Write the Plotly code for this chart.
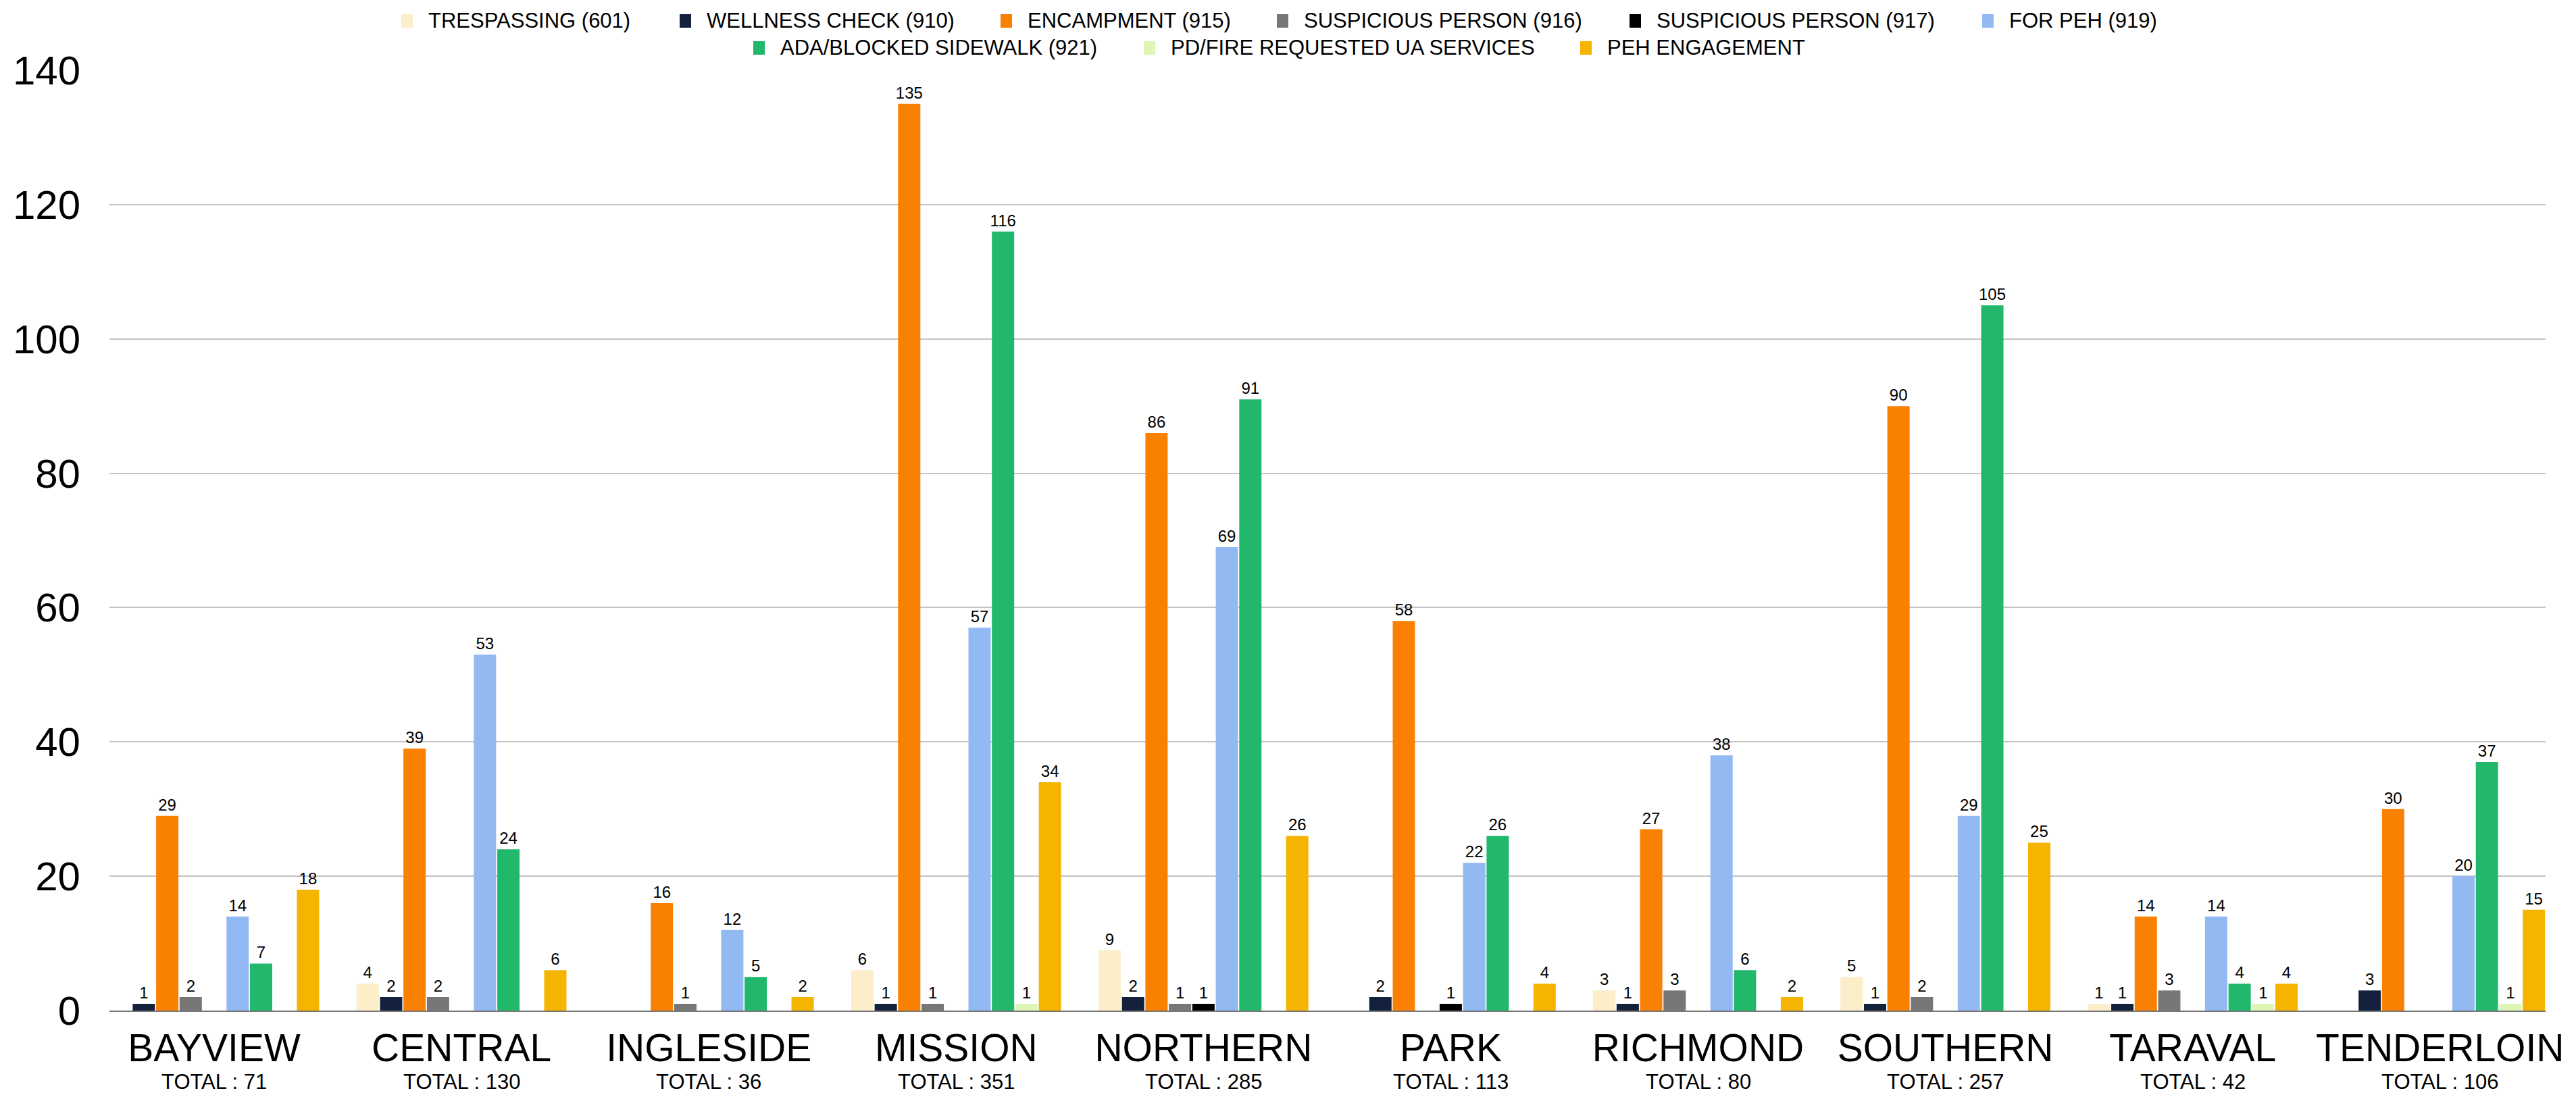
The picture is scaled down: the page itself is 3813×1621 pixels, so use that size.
import plotly.graph_objects as go

# ---- data ---------------------------------------------------------------
districts = ["BAYVIEW", "CENTRAL", "INGLESIDE", "MISSION", "NORTHERN",
             "PARK", "RICHMOND", "SOUTHERN", "TARAVAL", "TENDERLOIN"]

trespassing_601 = [0, 4, 0, 6, 9, 0, 3, 5, 1, 0]
wellness_check_910 = [1, 2, 0, 1, 2, 2, 1, 1, 1, 3]
encampment_915 = [29, 39, 16, 135, 86, 58, 27, 90, 14, 30]
suspicious_person_916 = [2, 2, 1, 1, 1, 0, 3, 2, 3, 0]
suspicious_person_917 = [0, 0, 0, 0, 1, 1, 0, 0, 0, 0]
for_peh_919 = [14, 53, 12, 57, 69, 22, 38, 29, 14, 20]
ada_blocked_sidewalk_921 = [7, 24, 5, 116, 91, 26, 6, 105, 4, 37]
pd_fire_requested_ua = [0, 0, 0, 1, 0, 0, 0, 0, 1, 1]
peh_engagement = [18, 6, 2, 34, 26, 4, 2, 25, 4, 15]

series_names = ["TRESPASSING (601)", "WELLNESS CHECK (910)", "ENCAMPMENT (915)",
                "SUSPICIOUS PERSON (916)", "SUSPICIOUS PERSON (917)", "FOR PEH (919)",
                "ADA/BLOCKED SIDEWALK (921)", "PD/FIRE REQUESTED UA SERVICES",
                "PEH ENGAGEMENT"]
series_values = [trespassing_601, wellness_check_910, encampment_915,
                 suspicious_person_916, suspicious_person_917, for_peh_919,
                 ada_blocked_sidewalk_921, pd_fire_requested_ua, peh_engagement]
series_colors = ["#FBEEC8", "#13213C", "#F98000", "#777777", "#000000",
                 "#93B9F3", "#22B86B", "#DDF6B6", "#F4B400"]

y_ticks = [0, 20, 40, 60, 80, 100, 120, 140]

# ---- geometry -----------------------------------------------------------
W, H = 3813, 1621
ML, MR, MT, MB = 162, 45, 104, 125
PW, PH = W - ML - MR, H - MT - MB
FONT = "Arial, Liberation Sans, sans-serif"


def paper_x(px):
    return (px - ML) / PW


def paper_y(py):
    return (H - MB - py) / PH


fig = go.Figure()
for name, vals, color in zip(series_names, series_values, series_colors):
    fig.add_trace(go.Bar(
        name=name, x=districts, y=vals,
        marker=dict(color=color, line=dict(width=0)),
        text=[str(v) if v else "" for v in vals],
        textposition="outside", constraintext="none", cliponaxis=False,
        textfont=dict(family=FONT, size=24, color="#000000"),
        showlegend=False, hoverinfo="x+y+name",
    ))

# district totals under the category names
totals = [sum(col) for col in zip(*series_values)]
annotations = []
for d, t in zip(districts, totals):
    annotations.append(dict(
        x=d, xref="x", y=paper_y(1601), yref="paper",
        text=f"TOTAL : {t}", showarrow=False,
        xanchor="center", yanchor="middle",
        font=dict(family=FONT, size=31, color="#000000"),
    ))

# two-row legend, each row centred on its own
legend_rows = [
    (31, [(0, 594), (1, 1006), (2, 1481), (3, 1890), (4, 2412), (5, 2934)]),
    (71, [(6, 1115), (7, 1693), (8, 2339)]),
]
shapes = []
for row_y, items in legend_rows:
    for idx, left in items:
        shapes.append(dict(
            type="rect", xref="paper", yref="paper",
            x0=paper_x(left), x1=paper_x(left + 17),
            y0=paper_y(row_y + 10), y1=paper_y(row_y - 10),
            fillcolor=series_colors[idx], line=dict(width=0), layer="above",
        ))
        annotations.append(dict(
            x=paper_x(left + 38), xref="paper", y=paper_y(row_y), yref="paper",
            text=series_names[idx], showarrow=False,
            xanchor="left", yanchor="middle",
            font=dict(family=FONT, size=31, color="#000000"),
        ))

fig.update_layout(
    width=W, height=H,
    margin=dict(l=ML, r=MR, t=MT, b=MB, pad=0),
    paper_bgcolor="#FFFFFF", plot_bgcolor="#FFFFFF",
    barmode="group", bargap=0.1465, bargroupgap=0.05,
    font=dict(family=FONT, color="#000000"),
    showlegend=False,
    annotations=annotations, shapes=shapes,
    xaxis=dict(
        type="category", range=[-0.4235, 9.4268],
        showgrid=False, showline=True, linecolor="#777777", linewidth=2,
        ticks="", ticklabelstandoff=5,
        tickfont=dict(family=FONT, size=57, color="#000000"),
    ),
    yaxis=dict(
        range=[0, 140], tickvals=y_ticks,
        showgrid=True, gridcolor="#C3C3C3", gridwidth=2,
        zeroline=False, showline=False, ticks="",
        ticklabelstandoff=42,
        tickfont=dict(family=FONT, size=60, color="#000000"),
    ),
)

fig.write_html("out.html")
